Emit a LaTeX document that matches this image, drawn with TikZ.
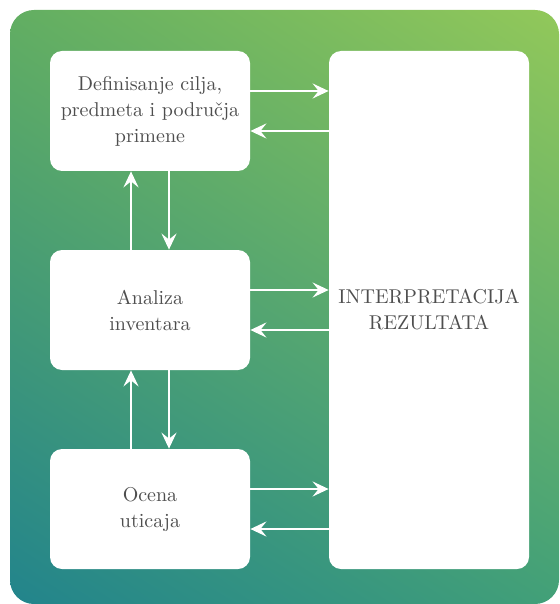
\documentclass[tikz,border=0pt]{standalone}
\usetikzlibrary{arrows.meta,shadings}

\definecolor{bgtl}{HTML}{62AE62}
\definecolor{bgtr}{HTML}{92C85A}
\definecolor{bgbl}{HTML}{22848C}
\definecolor{bgbr}{HTML}{42A078}
\definecolor{txtgray}{HTML}{4E4E4E}

\tikzset{
  etapa/.style={draw=none, fill=white, rounded corners=6pt, minimum width=100pt,
    minimum height=60pt, align=center, text=txtgray,
    font=\rmfamily\fontsize{10}{13}\selectfont},
  veza/.style={-{Stealth[length=8pt,width=7.5pt,inset=3pt]}, draw=white, line width=1.1pt}
}

\begin{document}
\begin{tikzpicture}[x=0.5pt, y=-0.5pt]
	\useasboundingbox (0,0) rectangle (559,604);

	% pozadina
	\shade[rounded corners=12pt, upper left=bgtl, upper right=bgtr,
	  lower left=bgbl, lower right=bgbr] (10,10) rectangle (559,604);

	% faze
	\node[etapa] (cilj) at (150,111) {Definisanje cilja,\\predmeta i područja\\primene};
	\node[etapa] (inventar) at (150,310) {Analiza\\inventara};
	\node[etapa] (ocena) at (150,509) {Ocena\\uticaja};
	\node[etapa, minimum height=259pt] (interp) at (429,310) {INTERPRETACIJA\\REZULTATA};

	%%% veze prema interpretaciji
	\foreach \faza in {cilj,inventar,ocena} {
		\draw[veza] ([yshift=10pt]\faza.east) -- ([yshift=10pt]\faza.east -| interp.west);
		\draw[veza] ([yshift=-10pt]\faza.east -| interp.west) -- ([yshift=-10pt]\faza.east);
	}

	%%% veze medju fazama
	\draw[veza] ([xshift=-9.5pt]inventar.north) -- ([xshift=-9.5pt]cilj.south);
	\draw[veza] ([xshift=9.5pt]cilj.south) -- ([xshift=9.5pt]inventar.north);
	\draw[veza] ([xshift=-9.5pt]ocena.north) -- ([xshift=-9.5pt]inventar.south);
	\draw[veza] ([xshift=9.5pt]inventar.south) -- ([xshift=9.5pt]ocena.north);
\end{tikzpicture}
\end{document}
